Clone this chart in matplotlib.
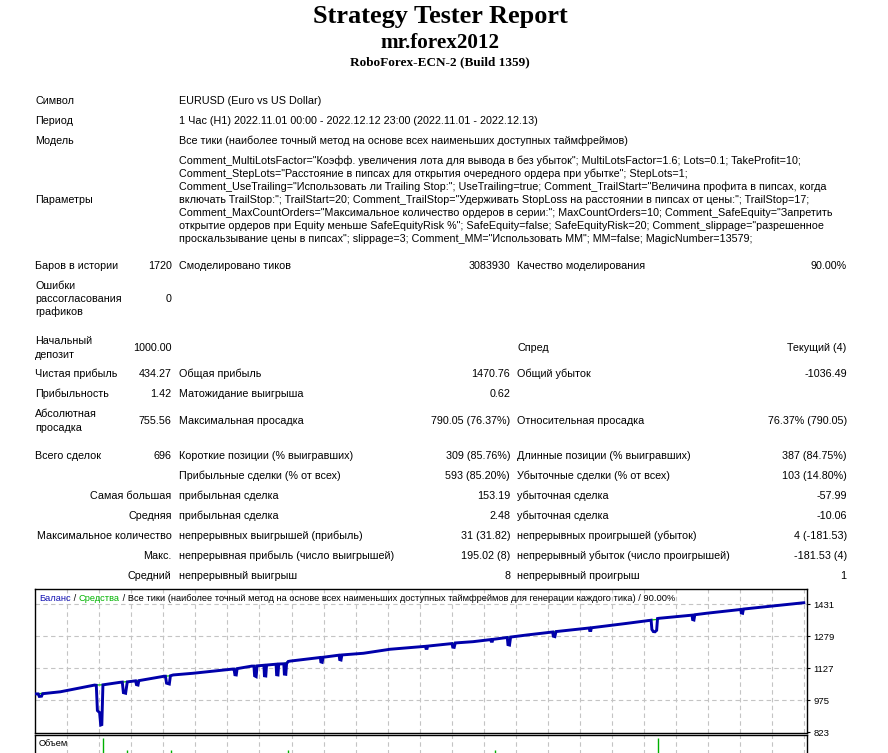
import matplotlib
matplotlib.use('Agg')
import matplotlib.pyplot as plt
import numpy as np

# ---------------- data ----------------
title = 'Strategy Tester Report'
expert = 'mr.forex2012'
server = 'RoboForex-ECN-2 (Build 1359)'

info_labels = ['Символ', 'Период', 'Модель']
info_values = ['EURUSD (Euro vs US Dollar)',
               '1 Час (H1) 2022.11.01 00:00 - 2022.12.12 23:00 (2022.11.01 - 2022.12.13)',
               'Все тики (наиболее точный метод на основе всех наименьших доступных таймфреймов)']

param_label = 'Параметры'
param_lines = [
    'Comment_MultiLotsFactor="Коэфф. увеличения лота для вывода в без убыток"; MultiLotsFactor=1.6; Lots=0.1; TakeProfit=10;',
    'Comment_StepLots="Расстояние в пипсах для открытия очередного ордера при убытке"; StepLots=1;',
    'Comment_UseTrailing="Использовать ли Trailing Stop:"; UseTrailing=true; Comment_TrailStart="Величина профита в пипсах, когда',
    'включать TrailStop:"; TrailStart=20; Comment_TrailStop="Удерживать StopLoss на расстоянии в пипсах от цены:"; TrailStop=17;',
    'Comment_MaxCountOrders="Максимальное количество ордеров в серии:"; MaxCountOrders=10; Comment_SafeEquity="Запретить',
    'открытие ордеров при Equity меньше SafeEquityRisk %"; SafeEquity=false; SafeEquityRisk=20; Comment_slippage="разрешенное',
    'проскальзывание цены в пипсах"; slippage=3; Comment_MM="Использовать MM"; MM=false; MagicNumber=13579;',
]

# stats rows: (label1 lines, value1, label2, value2, label3, value3)
stat_rows_top = [
    (['Баров в истории'], '1720', 'Смоделировано тиков', '3083930', 'Качество моделирования', '90.00%'),
    (['Ошибки', 'рассогласования', 'графиков'], '0', '', '', '', ''),
    (['Начальный', 'депозит'], '1000.00', '', '', 'Спред', 'Текущий (4)'),
    (['Чистая прибыль'], '434.27', 'Общая прибыль', '1470.76', 'Общий убыток', '-1036.49'),
    (['Прибыльность'], '1.42', 'Матожидание выигрыша', '0.62', '', ''),
    (['Абсолютная', 'просадка'], '755.56', 'Максимальная просадка', '790.05 (76.37%)', 'Относительная просадка', '76.37% (790.05)'),
]
stat_rows_bottom = [
    ('Всего сделок', '696', 'Короткие позиции (% выигравших)', '309 (85.76%)', 'Длинные позиции (% выигравших)', '387 (84.75%)'),
    ('', '', 'Прибыльные сделки (% от всех)', '593 (85.20%)', 'Убыточные сделки (% от всех)', '103 (14.80%)'),
    ('Самая большая', '', 'прибыльная сделка', '153.19', 'убыточная сделка', '-57.99'),
    ('Средняя', '', 'прибыльная сделка', '2.48', 'убыточная сделка', '-10.06'),
    ('Максимальное количество', '', 'непрерывных выигрышей (прибыль)', '31 (31.82)', 'непрерывных проигрышей (убыток)', '4 (-181.53)'),
    ('Макс.', '', 'непрерывная прибыль (число выигрышей)', '195.02 (8)', 'непрерывный убыток (число проигрышей)', '-181.53 (4)'),
    ('Средний', '', 'непрерывный выигрыш', '8', 'непрерывный проигрыш', '1'),
]

chart_legend = ['Баланс', ' / ', 'Средства',
                ' / Все тики (наиболее точный метод на основе всех наименьших доступных таймфреймов для генерации каждого тика) / 90.00%']
y_ticks = [823, 975, 1127, 1279, 1431]

# balance (green) curve: trade number -> balance
bal_trade = [0, 22, 53, 60.5, 76, 90, 93, 116, 121.5, 124, 142, 178, 181.8, 195, 206, 217, 224, 228, 230,
             258, 275, 296, 320, 353, 377, 379, 395, 412, 427, 444, 468, 501, 534, 556, 562, 563, 594, 606, 638, 694]
bal_value = [1004, 1014, 1046, 1047, 1059, 1066, 1067, 1088, 1090, 1094, 1102, 1122, 1124, 1136, 1140, 1145, 1147, 1158, 1160,
             1178, 1189, 1197, 1216, 1231, 1244, 1246, 1252, 1263, 1273, 1284, 1299, 1318, 1339, 1355, 1358, 1363, 1379, 1387, 1406, 1437]

# blue curve with drawdown dips
eq_trade = [0, 2, 3, 5, 6, 22, 53, 54.5, 55.5, 57.5, 58.5, 59.5, 60.5, 76, 78, 79, 81, 82.5, 90, 90.8, 92.2, 93,
            116, 117, 118, 120.5, 121.5, 124, 142, 178, 179, 179.8, 181, 181.8, 195, 197, 197.6, 199, 199.8,
            206, 206.5, 207.7, 208.4, 217, 217.5, 218.7, 219.4, 224, 224.5, 225.8, 226.5, 228, 230,
            257, 257.5, 258.7, 259.5, 274, 274.5, 275.7, 276.5, 296, 320, 352, 352.5, 353.5, 354,
            376, 376.7, 378, 379, 395, 411, 411.5, 412.5, 413, 426, 426.6, 428, 429, 444,
            467, 467.6, 469, 470, 500, 500.5, 501.5, 502, 534, 556, 556.7, 558, 559.5, 561, 561.8, 563,
            593, 593.5, 594.7, 595.5, 606, 637, 637.5, 638.7, 639.5, 694]
eq_value = [1004, 1004, 992, 993, 1005, 1014, 1046, 1045, 925, 915, 856, 858, 1047, 1059, 1060, 1010, 1007, 1061, 1066, 1048, 1046, 1067,
            1088, 1088, 1055, 1051, 1090, 1094, 1102, 1122, 1122, 1095, 1094, 1124, 1136, 1136, 1090, 1086, 1137,
            1140, 1090, 1089, 1141, 1145, 1095, 1094, 1146, 1147, 1098, 1097, 1148, 1158, 1160,
            1177, 1156, 1154, 1178, 1188, 1167, 1165, 1189, 1197, 1216, 1230, 1220, 1220, 1231,
            1243, 1226, 1225, 1246, 1252, 1262, 1254, 1254, 1263, 1272, 1238, 1236, 1274, 1284,
            1298, 1278, 1276, 1300, 1317, 1305, 1305, 1318, 1339, 1354, 1310, 1300, 1299, 1306, 1362, 1363,
            1378, 1357, 1355, 1380, 1387, 1405, 1389, 1387, 1407, 1437]

vol_trade = [60.3, 82.5, 121.8, 227.4, 415.2, 562.5]
vol_lots = [1.15, 0.9, 0.9, 0.9, 0.9, 1.15]

# ---------------- figure ----------------
W, H = 888, 753
fig = plt.figure(figsize=(W / 100, H / 100), dpi=100)
fig.patch.set_facecolor('white')
renderer = fig.canvas.get_renderer()

BODY = ['Liberation Sans', 'DejaVu Sans']
SERIF = ['Liberation Serif', 'DejaVu Serif']


def tx(x):
    return x / W


def ty(y):
    return 1 - y / H


def width_of(s, size, family, weight='normal'):
    t = fig.text(0, 0, s, fontsize=size, family=family, weight=weight)
    w = t.get_window_extent(renderer).width
    t.remove()
    return w


FS = 10 * 615 / width_of(param_lines[0], 10, BODY)
EM = FS * 100 / 72.0
BASE_OFF = 0.36 * EM   # from visual centre of capitals to baseline


def put(x, y, s, ha='left', size=None, family=None, **kw):
    if not s:
        return None
    return fig.text(tx(x), ty(y + BASE_OFF), s, ha=ha, va='baseline', fontsize=size or FS,
                    family=family or BODY, **kw)


def put_lines(x, y_first, lines, step, ha='left'):
    for k, s in enumerate(lines):
        put(x, y_first + k * step, s, ha=ha)


# titles
for s, target, ybase in [(title, 256, 22.7), (expert, 120, 48.3), (server, 179, 65.7)]:
    size = 10 * target / width_of(s, 10, SERIF, 'bold')
    fig.text(tx(440), ty(ybase), s, ha='center', va='baseline', fontsize=size,
             family=SERIF, weight='bold', color='black')

# column positions
C1L, C1R, C2L, C2R, C3L, C3R = 35, 171.7, 179.3, 510, 517.3, 846.7

for i, (lab, val) in enumerate(zip(info_labels, info_values)):
    y = 100.5 + 20 * i
    put(C1L, y, lab)
    put(C2L, y, val)

put(C1L, 199.3, param_label)
put_lines(C2L, 160, param_lines, 13.05)

top_y = [265, 298.3, 347, 373.3, 393.3, 420]
for y, row in zip(top_y, stat_rows_top):
    l1, v1, l2, v2, l3, v3 = row
    step = 13.3
    put_lines(C1L, y - step * (len(l1) - 1) / 2, l1, step)
    put(C1R, y, v1, ha='right')
    put(C2L, y, l2)
    put(C2R, y, v2, ha='right')
    put(C3L, y, l3)
    put(C3R, y, v3, ha='right')

for i, row in enumerate(stat_rows_bottom):
    y = 455 + 20 * i
    l1, v1, l2, v2, l3, v3 = row
    if i == 0:
        put(C1L, y, l1)
    else:
        put(C1R, y, l1, ha='right')
    put(C1R, y, v1, ha='right')
    put(C2L, y, l2)
    put(C2R, y, v2, ha='right')
    put(C3L, y, l3)
    put(C3R, y, v3, ha='right')

# ---------------- chart ----------------
AX_L, AX_R, AX_T, AX_B = 35, 807, 589, 733
ax = fig.add_axes([tx(AX_L), ty(AX_B), (AX_R - AX_L) / W, (AX_B - AX_T) / H])
ax.set_xlim(-0.9, 696.9)
ax.set_ylim(818.25, 1502.25)
grid_kw = dict(color='#c4c4c4', lw=0.8, ls=(0, (4, 3)), zorder=0)
vgrid = np.arange(28.3, 697, 28.95)
for gx in vgrid:
    ax.axvline(gx, **grid_kw)
for gy in y_ticks[1:]:
    ax.axhline(gy, **grid_kw)

ax.plot(bal_trade, bal_value, color='#00c000', lw=0.9, zorder=2)
ax.plot(eq_trade, eq_value, color='#0000aa', lw=2.1, zorder=3, solid_joinstyle='miter')

ax.set_xticks([])
ax.yaxis.tick_right()
ax.set_yticks(y_ticks)
tick_fs = FS * 21.5 / width_of('1431', FS, BODY)
ax.set_yticklabels([str(v) for v in y_ticks], fontsize=tick_fs, family=BODY)
ax.tick_params(axis='y', direction='out', length=2.5, width=0.8, pad=2, colors='black')
for sp in ax.spines.values():
    sp.set_linewidth(1.0)
    sp.set_color('black')

# legend/title line inside chart
leg_total = ''.join(chart_legend)
leg_fs = FS * 643 / width_of(leg_total, FS, BODY)
x = 39.3
colors = ['#1414b4', 'black', '#00b400', 'black']
for part, c in zip(chart_legend, colors):
    t = fig.text(tx(x), ty(600.8), part, ha='left', va='baseline', fontsize=leg_fs, family=BODY, color=c)
    x += t.get_window_extent(renderer).width

# volume panel
VT, VB = 735, 795
axv = fig.add_axes([tx(AX_L), ty(VB), (AX_R - AX_L) / W, (VB - VT) / H])
axv.set_xlim(-0.9, 696.9)
axv.set_ylim(0, 1.2)
for gx in vgrid:
    axv.axvline(gx, **grid_kw)
axv.vlines(vol_trade, 0, vol_lots, color='#00b000', lw=1.0, zorder=3)
axv.set_xticks([])
axv.set_yticks([])
for sp in axv.spines.values():
    sp.set_linewidth(1.0)
    sp.set_color('black')
fig.text(tx(39), ty(746), 'Объем', ha='left', va='baseline', fontsize=leg_fs, family=BODY, color='black')

fig.savefig('out.png', dpi=100, facecolor='white')
